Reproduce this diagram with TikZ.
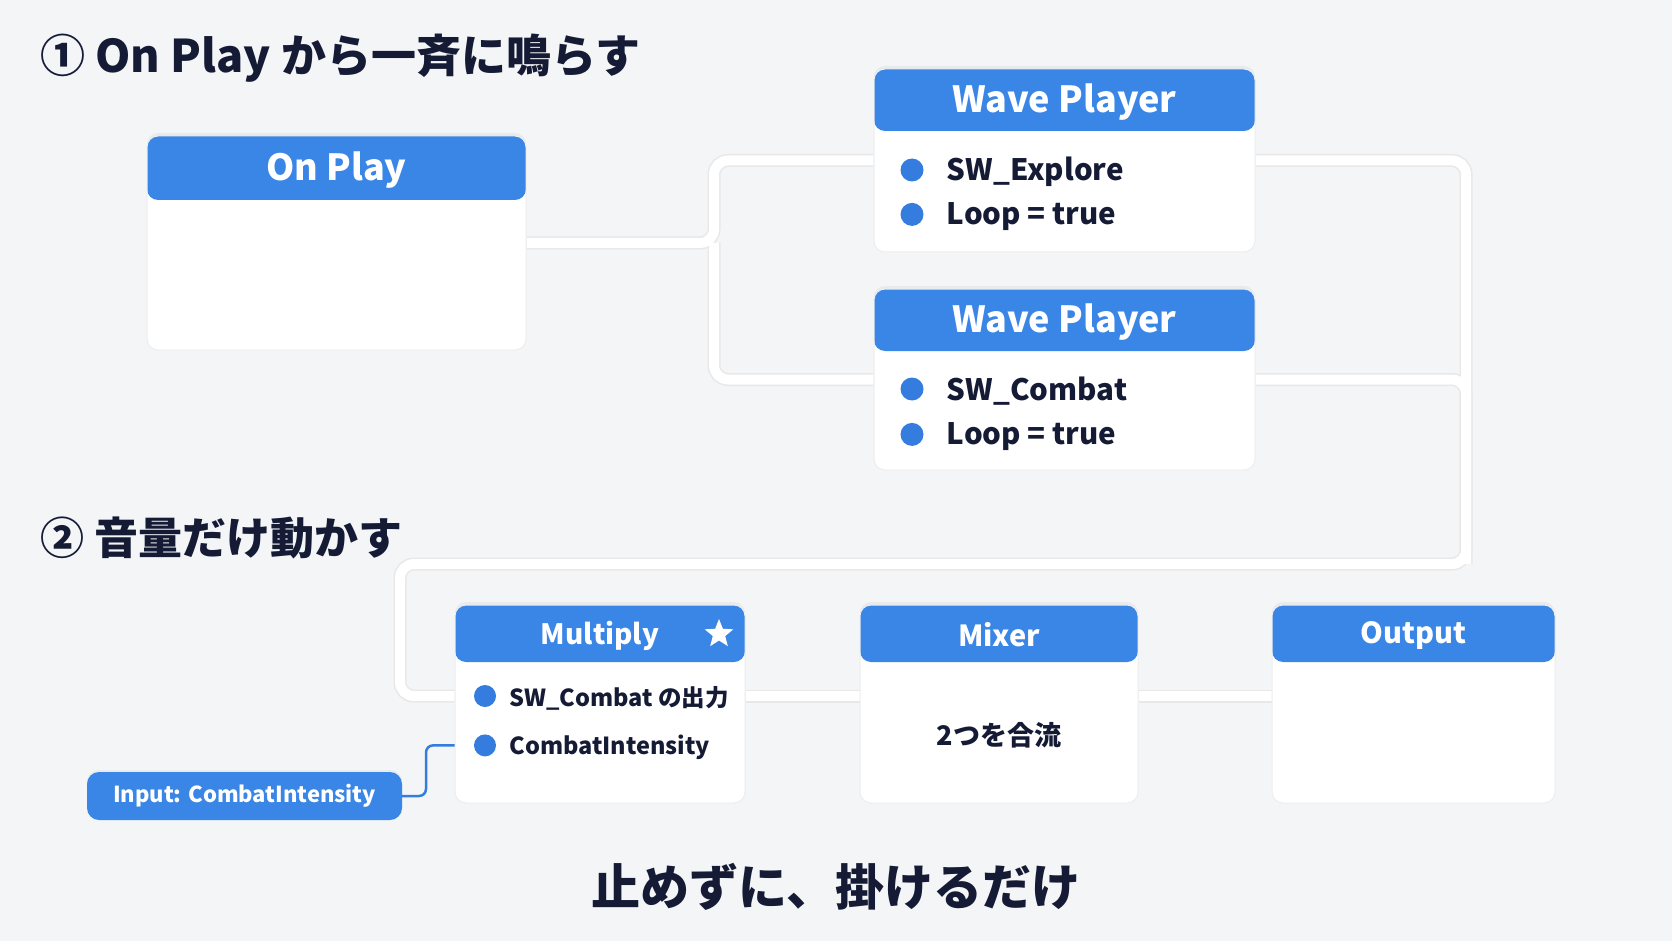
\documentclass[tikz,border=0pt]{standalone}
\usepackage{fontspec}
\setmainfont{Noto Sans CJK JP}
\usetikzlibrary{positioning, shadows, shapes.geometric, backgrounds}
\definecolor{pagebg}{HTML}{F4F5F7}
\definecolor{headblue}{HTML}{3A86E6}
\definecolor{dotblue}{HTML}{357CDF}
\definecolor{inkdark}{HTML}{151B35}
\tikzset{
  card/.style={
    rectangle,
    rounded corners=11,
    fill=white,
    draw=black!7,
    line width=1,
    inner sep=0,
    drop shadow={opacity=0.09, shadow xshift=0, shadow yshift=-3},
    path picture={\fill[headblue] (path picture bounding box.north west)
      rectangle ([yshift=-#1]path picture bounding box.north east);}
  },
  headtext/.style={
    text=white,
    inner sep=0,
    font=\bfseries\fontsize{#1}{#1}\selectfont
  },
  headtext/.default=36,
  title/.style={
    text=inkdark,
    inner sep=0,
    font=\bfseries\fontsize{#1}{#1}\selectfont
  },
  itemdot/.style={
    circle,
    fill=dotblue,
    minimum size=#1,
    inner sep=0
  },
  itemdot/.default=23,
  itemtext/.style={
    text=inkdark,
    inner sep=0,
    yshift=-2pt,
    font=\bfseries\fontsize{#1}{#1}\selectfont
  },
  pill/.style={
    rectangle,
    rounded corners=12,
    fill=headblue,
    text=white,
    inner sep=0,
    minimum width=315,
    minimum height=48,
    drop shadow={opacity=0.08, shadow xshift=0, shadow yshift=-2},
    font=\bfseries\fontsize{22}{22}\selectfont
  },
  wire/.style 2 args={
    draw=#1,
    line width=#2,
    rounded corners=14
  },
  link/.style={
    draw=dotblue,
    line width=2.5,
    rounded corners=7
  }
}

\begin{document}
\begin{tikzpicture}[x=1pt, y=-1pt]
  \useasboundingbox (0,0) rectangle (1672,941);

  % section 1: On Play -> two Wave Players
  \node[title=45, anchor=west] (ttl1) at (40,58) {① On Play から一斉に鳴らす};

  \node[card=64, minimum width=379, minimum height=214] (onplay) at (336.5,243) {};
  \node[headtext] (onplayh) at ([yshift=-35]onplay.north) {On Play};

  \node[card=62, minimum width=381, minimum height=183] (wp1) at (1064.5,160.5) {};
  \node[headtext] (wp1h) at ([yshift=-34]wp1.north) {Wave Player};
  \node[itemdot] (wp1d1) at (912,170) {};
  \node[itemdot, below=21pt of wp1d1] (wp1d2) {};
  \node[itemtext=29.5, right=23pt of wp1d1] (wp1t1) {SW\_Explore};
  \node[itemtext=29.5, right=23pt of wp1d2] (wp1t2) {Loop = true};

  \node[card=62, minimum width=381, minimum height=181] (wp2) at (1064.5,379.5) {};
  \node[headtext] (wp2h) at ([yshift=-34]wp2.north) {Wave Player};
  \node[itemdot] (wp2d1) at (912,389) {};
  \node[itemdot, below=22pt of wp2d1] (wp2d2) {};
  \node[itemtext=29.5, right=23pt of wp2d1] (wp2t1) {SW\_Combat};
  \node[itemtext=29.5, right=23pt of wp2d2] (wp2t2) {Loop = true};

  % section 2: volume only
  \node[title=44, anchor=west] (ttl2) at (40,538) {② 音量だけ動かす};

  \node[card=57, minimum width=290, minimum height=198] (mult) at (600,704) {};
  \node[headtext=28] (multh) at ([yshift=-31]mult.north) {Multiply};
  \node[star, star points=5, star point ratio=2.3, fill=white, inner sep=0, minimum size=30] (multstar) at (719,634) {};
  \node[itemdot=22] (multd1) at (485,696) {};
  \node[itemdot=22, below=27pt of multd1] (multd2) {};
  \node[itemtext=23.5, right=13pt of multd1] (multt1) {SW\_Combat の出力};
  \node[itemtext=23.5, right=13pt of multd2] (multt2) {CombatIntensity};

  \node[card=57, minimum width=278, minimum height=198] (mix) at (999,704) {};
  \node[headtext=29] (mixh) at ([yshift=-30]mix.north) {Mixer};
  \node[itemtext=27] (mixt) at (999,733) {2つを合流};

  \node[card=57, minimum width=283, minimum height=198] (out) at (1413.5,704) {};
  \node[headtext=29] (outh) at ([yshift=-31]out.north) {Output};

  \node[pill] (inp) at (244.5,796) {Input: CombatIntensity};

  \node[title=49] (ttl3) at (836,887) {止めずに、掛けるだけ};

  % bends of the wires
  \coordinate (split) at (714,243);
  \coordinate (railne) at (1466,564);
  \coordinate (railnw) at (400,564);
  \coordinate (ibend) at (426,770);

  \begin{pgfonlayer}{background}
    \fill[pagebg] (0,0) rectangle (1672,941);
    \foreach \wcol/\wwid in {black!9/13, white/10} {
      \draw[wire={\wcol}{\wwid}] (onplay.east) -- (split) |- (wp1.west);
      \draw[wire={\wcol}{\wwid}] (split) |- (wp2.west);
      \draw[wire={\wcol}{\wwid}] (wp1.east) -| (railne) -- (railnw) |- (mult.west |- multd1);
      \draw[wire={\wcol}{\wwid}] (wp2.east) -| (railne);
      \draw[wire={\wcol}{\wwid}] (mult.east |- multd1) -- (mix.west |- multd1);
      \draw[wire={\wcol}{\wwid}] (mix.east |- multd1) -- (out.west |- multd1);
    }
  \end{pgfonlayer}
  \draw[link] (inp.east) -| (ibend) |- (mult.west |- multd2);
\end{tikzpicture}
\end{document}
